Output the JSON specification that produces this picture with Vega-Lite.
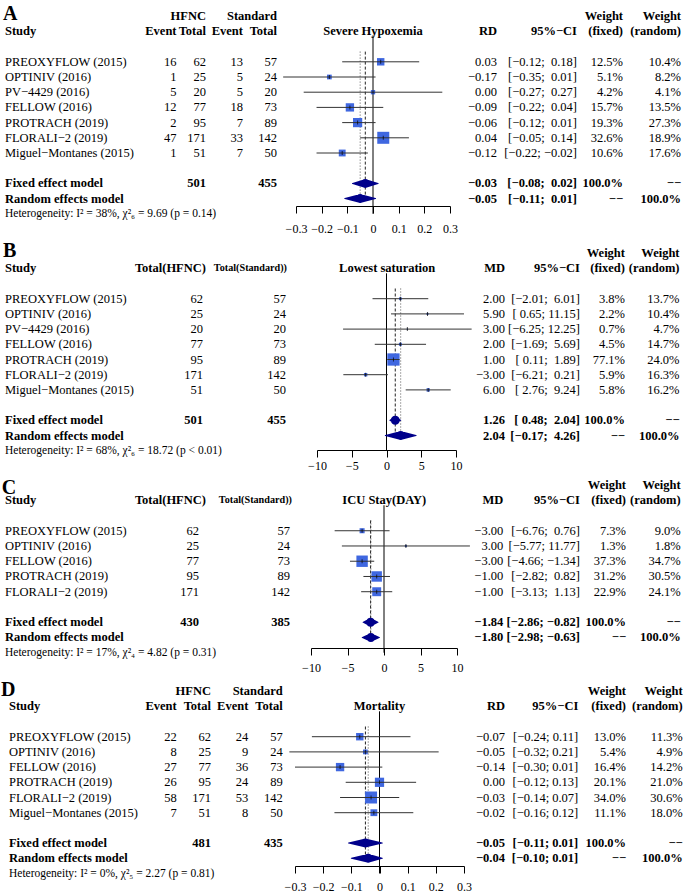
{
"$schema":"https://vega.github.io/schema/vega-lite/v6.json",
"padding":0,
"spacing":0,
"resolve":{"scale":{"size":"independent"}},
"config":{
 "view":{"stroke":null},
 "font":"Liberation Serif",
 "text":{"font":"Liberation Serif","fontSize":12.5,"align":"right","color":"black"},
 "axis":{"grid":false,"domainColor":"black","tickColor":"black","labelColor":"black","labelFont":"Liberation Serif","labelFontSize":12,"tickSize":7},
 "legend":{"disable":true}
},
"datasets":{
 "A":[
  {"row":"PREOXYFLOW (2015)","e1":16,"n1":62,"e2":13,"n2":57,"est":0.03,"lo":-0.12,"hi":0.18,"ci":"[−0.12;\u00a0 0.18]","wf":0.125,"wr":0.104},
  {"row":"OPTINIV (2016)","e1":1,"n1":25,"e2":5,"n2":24,"est":-0.17,"lo":-0.35,"hi":0.01,"ci":"[−0.35;\u00a0 0.01]","wf":0.051,"wr":0.082},
  {"row":"PV−4429 (2016)","e1":5,"n1":20,"e2":5,"n2":20,"est":0.0,"lo":-0.27,"hi":0.27,"ci":"[−0.27;\u00a0 0.27]","wf":0.042,"wr":0.041},
  {"row":"FELLOW (2016)","e1":12,"n1":77,"e2":18,"n2":73,"est":-0.09,"lo":-0.22,"hi":0.04,"ci":"[−0.22;\u00a0 0.04]","wf":0.157,"wr":0.135},
  {"row":"PROTRACH (2019)","e1":2,"n1":95,"e2":7,"n2":89,"est":-0.06,"lo":-0.12,"hi":0.01,"ci":"[−0.12;\u00a0 0.01]","wf":0.193,"wr":0.273},
  {"row":"FLORALI−2 (2019)","e1":47,"n1":171,"e2":33,"n2":142,"est":0.04,"lo":-0.05,"hi":0.14,"ci":"[−0.05;\u00a0 0.14]","wf":0.326,"wr":0.189},
  {"row":"Miguel−Montanes (2015)","e1":1,"n1":51,"e2":7,"n2":50,"est":-0.12,"lo":-0.22,"hi":-0.02,"ci":"[−0.22; −0.02]","wf":0.106,"wr":0.176}
 ],
 "As":[
  {"row":"Fixed effect model","n1":501,"n2":455,"est":-0.03,"lo":-0.08,"hi":0.02,"ci":"[−0.08;\u00a0 0.02]","wf":"100.0%","wr":"−−"},
  {"row":"Random effects model","est":-0.05,"lo":-0.11,"hi":0.01,"ci":"[−0.11;\u00a0 0.01]","wf":"−−","wr":"100.0%"}
 ],
 "hA":[
  {"row":"h1","c":"L","t":"A"},
  {"row":"h1","c":"n1","t":"HFNC"},
  {"row":"h1","c":"n2","t":"Standard"},
  {"row":"h1","c":"wf","t":"Weight"},
  {"row":"h1","c":"wr","t":"Weight"},
  {"row":"h2","c":"study","t":"Study"},
  {"row":"h2","c":"e1","t":"Event"},
  {"row":"h2","c":"n1","t":"Total"},
  {"row":"h2","c":"e2","t":"Event"},
  {"row":"h2","c":"n2","t":"Total"},
  {"row":"h2","c":"plot","t":"Severe Hypoxemia"},
  {"row":"h2","c":"est","t":"RD"},
  {"row":"h2","c":"ci","t":"95%−CI"},
  {"row":"h2","c":"wf","t":"(fixed)"},
  {"row":"h2","c":"wr","t":"(random)"},
  {"row":"het","c":"het","t":"Heterogeneity: I² = 38%, χ²₆ = 9.69 (p = 0.14)"}
 ],
 "B":[
  {"row":"PREOXYFLOW (2015)","n1":62,"n2":57,"est":2.0,"lo":-2.01,"hi":6.01,"ci":"[−2.01;\u00a0 6.01]","wf":0.038,"wr":0.137},
  {"row":"OPTINIV (2016)","n1":25,"n2":24,"est":5.9,"lo":0.65,"hi":11.15,"ci":"[ 0.65; 11.15]","wf":0.022,"wr":0.104},
  {"row":"PV−4429 (2016)","n1":20,"n2":20,"est":3.0,"lo":-6.25,"hi":12.25,"ci":"[−6.25; 12.25]","wf":0.007,"wr":0.047},
  {"row":"FELLOW (2016)","n1":77,"n2":73,"est":2.0,"lo":-1.69,"hi":5.69,"ci":"[−1.69;\u00a0 5.69]","wf":0.045,"wr":0.147},
  {"row":"PROTRACH (2019)","n1":95,"n2":89,"est":1.0,"lo":0.11,"hi":1.89,"ci":"[ 0.11;\u00a0 1.89]","wf":0.771,"wr":0.24},
  {"row":"FLORALI−2 (2019)","n1":171,"n2":142,"est":-3.0,"lo":-6.21,"hi":0.21,"ci":"[−6.21;\u00a0 0.21]","wf":0.059,"wr":0.163},
  {"row":"Miguel−Montanes (2015)","n1":51,"n2":50,"est":6.0,"lo":2.76,"hi":9.24,"ci":"[ 2.76;\u00a0 9.24]","wf":0.058,"wr":0.162}
 ],
 "Bs":[
  {"row":"Fixed effect model","n1":501,"n2":455,"est":1.26,"lo":0.48,"hi":2.04,"ci":"[ 0.48;\u00a0 2.04]","wf":"100.0%","wr":"−−"},
  {"row":"Random effects model","est":2.04,"lo":-0.17,"hi":4.26,"ci":"[−0.17;\u00a0 4.26]","wf":"−−","wr":"100.0%"}
 ],
 "hB":[
  {"row":"h1","c":"L","t":"B"},
  {"row":"h1","c":"wf","t":"Weight"},
  {"row":"h1","c":"wr","t":"Weight"},
  {"row":"h2","c":"study","t":"Study"},
  {"row":"h2","c":"n1","t":"Total(HFNC)"},
  {"row":"h2","c":"n2","t":"Total(Standard))"},
  {"row":"h2","c":"plot","t":"Lowest saturation"},
  {"row":"h2","c":"est","t":"MD"},
  {"row":"h2","c":"ci","t":"95%−CI"},
  {"row":"h2","c":"wf","t":"(fixed)"},
  {"row":"h2","c":"wr","t":"(random)"},
  {"row":"het","c":"het","t":"Heterogeneity: I² = 68%, χ²₆ = 18.72 (p < 0.01)"}
 ],
 "C":[
  {"row":"PREOXYFLOW (2015)","n1":62,"n2":57,"est":-3.0,"lo":-6.76,"hi":0.76,"ci":"[−6.76;\u00a0 0.76]","wf":0.073,"wr":0.09},
  {"row":"OPTINIV (2016)","n1":25,"n2":24,"est":3.0,"lo":-5.77,"hi":11.77,"ci":"[−5.77; 11.77]","wf":0.013,"wr":0.018},
  {"row":"FELLOW (2016)","n1":77,"n2":73,"est":-3.0,"lo":-4.66,"hi":-1.34,"ci":"[−4.66; −1.34]","wf":0.373,"wr":0.347},
  {"row":"PROTRACH (2019)","n1":95,"n2":89,"est":-1.0,"lo":-2.82,"hi":0.82,"ci":"[−2.82;\u00a0 0.82]","wf":0.312,"wr":0.305},
  {"row":"FLORALI−2 (2019)","n1":171,"n2":142,"est":-1.0,"lo":-3.13,"hi":1.13,"ci":"[−3.13;\u00a0 1.13]","wf":0.229,"wr":0.241}
 ],
 "Cs":[
  {"row":"Fixed effect model","n1":430,"n2":385,"est":-1.84,"lo":-2.86,"hi":-0.82,"ci":"[−2.86; −0.82]","wf":"100.0%","wr":"−−"},
  {"row":"Random effects model","est":-1.8,"lo":-2.98,"hi":-0.63,"ci":"[−2.98; −0.63]","wf":"−−","wr":"100.0%"}
 ],
 "hC":[
  {"row":"h1","c":"L","t":"C"},
  {"row":"h1","c":"wf","t":"Weight"},
  {"row":"h1","c":"wr","t":"Weight"},
  {"row":"h2","c":"study","t":"Study"},
  {"row":"h2","c":"n1","t":"Total(HFNC)"},
  {"row":"h2","c":"n2","t":"Total(Standard))"},
  {"row":"h2","c":"plot","t":"ICU Stay(DAY)"},
  {"row":"h2","c":"est","t":"MD"},
  {"row":"h2","c":"ci","t":"95%−CI"},
  {"row":"h2","c":"wf","t":"(fixed)"},
  {"row":"h2","c":"wr","t":"(random)"},
  {"row":"het","c":"het","t":"Heterogeneity: I² = 17%, χ²₄ = 4.82 (p = 0.31)"}
 ],
 "D":[
  {"row":"PREOXYFLOW (2015)","e1":22,"n1":62,"e2":24,"n2":57,"est":-0.07,"lo":-0.24,"hi":0.11,"ci":"[−0.24; 0.11]","wf":0.13,"wr":0.113},
  {"row":"OPTINIV (2016)","e1":8,"n1":25,"e2":9,"n2":24,"est":-0.05,"lo":-0.32,"hi":0.21,"ci":"[−0.32; 0.21]","wf":0.054,"wr":0.049},
  {"row":"FELLOW (2016)","e1":27,"n1":77,"e2":36,"n2":73,"est":-0.14,"lo":-0.3,"hi":0.01,"ci":"[−0.30; 0.01]","wf":0.164,"wr":0.142},
  {"row":"PROTRACH (2019)","e1":26,"n1":95,"e2":24,"n2":89,"est":0.0,"lo":-0.12,"hi":0.13,"ci":"[−0.12; 0.13]","wf":0.201,"wr":0.21},
  {"row":"FLORALI−2 (2019)","e1":58,"n1":171,"e2":53,"n2":142,"est":-0.03,"lo":-0.14,"hi":0.07,"ci":"[−0.14; 0.07]","wf":0.34,"wr":0.306},
  {"row":"Miguel−Montanes (2015)","e1":7,"n1":51,"e2":8,"n2":50,"est":-0.02,"lo":-0.16,"hi":0.12,"ci":"[−0.16; 0.12]","wf":0.111,"wr":0.18}
 ],
 "Ds":[
  {"row":"Fixed effect model","n1":481,"n2":435,"est":-0.05,"lo":-0.11,"hi":0.01,"ci":"[−0.11; 0.01]","wf":"100.0%","wr":"−−"},
  {"row":"Random effects model","est":-0.04,"lo":-0.1,"hi":0.01,"ci":"[−0.10; 0.01]","wf":"−−","wr":"100.0%"}
 ],
 "hD":[
  {"row":"h1","c":"L","t":"D"},
  {"row":"h1","c":"n1","t":"HFNC"},
  {"row":"h1","c":"n2","t":"Standard"},
  {"row":"h1","c":"wf","t":"Weight"},
  {"row":"h1","c":"wr","t":"Weight"},
  {"row":"h2","c":"study","t":"Study"},
  {"row":"h2","c":"e1","t":"Event"},
  {"row":"h2","c":"n1","t":"Total"},
  {"row":"h2","c":"e2","t":"Event"},
  {"row":"h2","c":"n2","t":"Total"},
  {"row":"h2","c":"plot","t":"Mortality"},
  {"row":"h2","c":"est","t":"RD"},
  {"row":"h2","c":"ci","t":"95%−CI"},
  {"row":"h2","c":"wf","t":"(fixed)"},
  {"row":"h2","c":"wr","t":"(random)"},
  {"row":"het","c":"het","t":"Heterogeneity: I² = 0%, χ²₅ = 2.27 (p = 0.81)"}
 ]
},
"vconcat":[
 {"spacing":0,"bounds":"flush","resolve":{"scale":{"size":"independent"}},"hconcat":[
  {"width":296,"height":206,
   "encoding":{"y":{"field":"row","type":"nominal","axis":null,"scale":{"type":"point","padding":0,"domain":["h1","h2","b1","PREOXYFLOW (2015)","OPTINIV (2016)","PV−4429 (2016)","FELLOW (2016)","PROTRACH (2019)","FLORALI−2 (2019)","Miguel−Montanes (2015)","b2","Fixed effect model","Random effects model","het"],"range":[16.2,213.8]}}},
   "layer":[
    {"data":{"name":"hA"},"transform":[{"filter":"datum.c=='L'"}],"mark":{"type":"text","align":"left","fontWeight":"bold","fontSize":20,"dy":-2.5},"encoding":{"x":{"datum":0.44,"scale":{"domain":[0,43.212],"nice":false,"zero":false},"axis":null},"text":{"field":"t"}}},
    {"data":{"name":"hA"},"transform":[{"filter":"datum.c=='het'"}],"mark":{"type":"text","align":"left","fontSize":11.5},"encoding":{"x":{"datum":0.73,"axis":null},"text":{"field":"t"}}},
    {"data":{"name":"hA"},"transform":[{"filter":"datum.c=='study'"}],"mark":{"type":"text","align":"left","fontWeight":"bold"},"encoding":{"x":{"datum":0.73,"axis":null},"text":{"field":"t"}}},
    {"data":{"name":"hA"},"transform":[{"filter":"datum.c=='e1'"}],"mark":{"type":"text","fontWeight":"bold"},"encoding":{"x":{"datum":25.77,"axis":null},"text":{"field":"t"}}},
    {"data":{"name":"hA"},"transform":[{"filter":"datum.c=='n1'"}],"mark":{"type":"text","fontWeight":"bold"},"encoding":{"x":{"datum":30.07,"axis":null},"text":{"field":"t"}}},
    {"data":{"name":"hA"},"transform":[{"filter":"datum.c=='e2'"}],"mark":{"type":"text","fontWeight":"bold"},"encoding":{"x":{"datum":35.47,"axis":null},"text":{"field":"t"}}},
    {"data":{"name":"hA"},"transform":[{"filter":"datum.c=='n2'"}],"mark":{"type":"text","fontWeight":"bold"},"encoding":{"x":{"datum":40.44,"axis":null},"text":{"field":"t"}}},
    {"data":{"name":"A"},"mark":{"type":"text","align":"left"},"encoding":{"x":{"datum":0.73,"axis":null},"text":{"field":"row"}}},
    {"data":{"name":"A"},"mark":"text","encoding":{"x":{"datum":25.77,"axis":null},"text":{"field":"e1"}}},
    {"data":{"name":"A"},"mark":"text","encoding":{"x":{"datum":30.07,"axis":null},"text":{"field":"n1"}}},
    {"data":{"name":"A"},"mark":"text","encoding":{"x":{"datum":35.47,"axis":null},"text":{"field":"e2"}}},
    {"data":{"name":"A"},"mark":"text","encoding":{"x":{"datum":40.44,"axis":null},"text":{"field":"n2"}}},
    {"data":{"name":"As"},"mark":{"type":"text","align":"left","fontWeight":"bold"},"encoding":{"x":{"datum":0.73,"axis":null},"text":{"field":"row"}}},
    {"data":{"name":"As"},"transform":[{"filter":"isValid(datum.n1)"}],"mark":{"type":"text","fontWeight":"bold"},"encoding":{"x":{"datum":30.07,"axis":null},"text":{"field":"n1"}}},
    {"data":{"name":"As"},"transform":[{"filter":"isValid(datum.n2)"}],"mark":{"type":"text","fontWeight":"bold"},"encoding":{"x":{"datum":40.44,"axis":null},"text":{"field":"n2"}}}
   ]},
  {"width":154,"height":206,
   "encoding":{"y":{"field":"row","type":"nominal","axis":null,"scale":{"type":"point","padding":0,"domain":["h1","h2","b1","PREOXYFLOW (2015)","OPTINIV (2016)","PV−4429 (2016)","FELLOW (2016)","PROTRACH (2019)","FLORALI−2 (2019)","Miguel−Montanes (2015)","b2","Fixed effect model","Random effects model","het"],"range":[16.2,213.8]}}},
   "resolve":{"scale":{"size":"independent"}},
   "layer":[
    {"data":{"name":"As"},"transform":[{"filter":"datum.row=='Fixed effect model'"}],"mark":{"type":"rule","color":"black","yOffset":4},"encoding":{"x":{"datum":0,"scale":{"domain":[-0.3,0.3],"nice":false},"axis":{"values":[-0.3,-0.2,-0.1,0,0.1,0.2,0.3],"tickCount":20,"format":"~g","title":null,"orient":"bottom","labelPadding":10,"labelOverlap":false,"labelFlush":false,"labelBound":false}},"y":{"datum":"h2"},"y2":{"datum":"het"}}},
    {"data":{"name":"As"},"transform":[{"filter":"datum.row=='Fixed effect model'"}],"mark":{"type":"rule","color":"#222","strokeDash":[3,2],"yOffset":5,"y2Offset":2},"encoding":{"x":{"field":"est","type":"quantitative"},"y":{"datum":"b1"},"y2":{"datum":"Random effects model"}}},
    {"data":{"name":"As"},"transform":[{"filter":"datum.row=='Random effects model'"}],"mark":{"type":"rule","color":"#555","strokeDash":[1,2],"yOffset":5,"y2Offset":2},"encoding":{"x":{"field":"est","type":"quantitative"},"y":{"datum":"b1"},"y2":{"datum":"Random effects model"}}},
    {"data":{"name":"A"},"mark":{"type":"point","shape":"square","filled":true,"color":"#3f67e0","opacity":1},"encoding":{"x":{"field":"est","type":"quantitative"},"size":{"field":"wf","type":"quantitative","scale":{"domain":[0,0.326],"range":[0,144]}}}},
    {"data":{"name":"A"},"mark":{"type":"rule","color":"#333"},"encoding":{"x":{"field":"lo","type":"quantitative"},"x2":{"field":"hi"}}},
    {"data":{"name":"A"},"mark":{"type":"tick","color":"black","size":4,"thickness":1},"encoding":{"x":{"field":"est","type":"quantitative"}}},
    {"data":{"name":"As"},"transform":[{"fold":["lo","est","hi"],"as":["k","v"]},{"window":[{"op":"row_number","as":"i"}],"sort":[{"field":"v"}],"groupby":["row"]}],"mark":{"type":"trail","color":"#00008b"},"encoding":{"x":{"field":"v","type":"quantitative"},"size":{"field":"i","type":"quantitative","scale":{"domain":[1,2,3],"range":[0,9,0]}},"detail":{"field":"row","type":"nominal"},"order":{"field":"i","type":"quantitative"}}},
    {"data":{"name":"hA"},"transform":[{"filter":"datum.c=='plot'"}],"mark":{"type":"text","align":"center","fontWeight":"bold"},"encoding":{"x":{"datum":0},"text":{"field":"t"}}}
   ]},
  {"width":235,"height":206,
   "encoding":{"y":{"field":"row","type":"nominal","axis":null,"scale":{"type":"point","padding":0,"domain":["h1","h2","b1","PREOXYFLOW (2015)","OPTINIV (2016)","PV−4429 (2016)","FELLOW (2016)","PROTRACH (2019)","FLORALI−2 (2019)","Miguel−Montanes (2015)","b2","Fixed effect model","Random effects model","het"],"range":[16.2,213.8]}}},
   "layer":[
    {"data":{"name":"hA"},"transform":[{"filter":"datum.c=='est'"}],"mark":{"type":"text","fontWeight":"bold"},"encoding":{"x":{"datum":72.55,"scale":{"domain":[65.693,100],"nice":false,"zero":false},"axis":null},"text":{"field":"t"}}},
    {"data":{"name":"hA"},"transform":[{"filter":"datum.c=='ci'"}],"mark":{"type":"text","fontWeight":"bold"},"encoding":{"x":{"datum":84.23,"axis":null},"text":{"field":"t"}}},
    {"data":{"name":"hA"},"transform":[{"filter":"datum.c=='wf'"}],"mark":{"type":"text","fontWeight":"bold"},"encoding":{"x":{"datum":90.95,"axis":null},"text":{"field":"t"}}},
    {"data":{"name":"hA"},"transform":[{"filter":"datum.c=='wr'"}],"mark":{"type":"text","fontWeight":"bold"},"encoding":{"x":{"datum":99.42,"axis":null},"text":{"field":"t"}}},
    {"data":{"name":"A"},"mark":"text","encoding":{"x":{"datum":72.55,"axis":null},"text":{"field":"est","type":"quantitative","format":".2f"}}},
    {"data":{"name":"A"},"mark":"text","encoding":{"x":{"datum":84.23,"axis":null},"text":{"field":"ci"}}},
    {"data":{"name":"A"},"mark":"text","encoding":{"x":{"datum":90.95,"axis":null},"text":{"field":"wf","type":"quantitative","format":".1%"}}},
    {"data":{"name":"A"},"mark":"text","encoding":{"x":{"datum":99.42,"axis":null},"text":{"field":"wr","type":"quantitative","format":".1%"}}},
    {"data":{"name":"As"},"mark":{"type":"text","fontWeight":"bold"},"encoding":{"x":{"datum":72.55,"axis":null},"text":{"field":"est","type":"quantitative","format":".2f"}}},
    {"data":{"name":"As"},"mark":{"type":"text","fontWeight":"bold"},"encoding":{"x":{"datum":84.23,"axis":null},"text":{"field":"ci"}}},
    {"data":{"name":"As"},"mark":{"type":"text","fontWeight":"bold"},"encoding":{"x":{"datum":90.95,"axis":null},"text":{"field":"wf"}}},
    {"data":{"name":"As"},"mark":{"type":"text","fontWeight":"bold"},"encoding":{"x":{"datum":99.42,"axis":null},"text":{"field":"wr"}}}
   ]}
 ]},
 {"spacing":0,"bounds":"flush","resolve":{"scale":{"size":"independent"}},"hconcat":[
  {"width":317,"height":216,
   "encoding":{"y":{"field":"row","type":"nominal","axis":null,"scale":{"type":"point","padding":0,"domain":["h1","h2","b1","PREOXYFLOW (2015)","OPTINIV (2016)","PV−4429 (2016)","FELLOW (2016)","PROTRACH (2019)","FLORALI−2 (2019)","Miguel−Montanes (2015)","b2","Fixed effect model","Random effects model","het"],"range":[19.1,216.7]}}},
   "layer":[
    {"data":{"name":"hB"},"transform":[{"filter":"datum.c=='L'"}],"mark":{"type":"text","align":"left","fontWeight":"bold","fontSize":20,"dy":-2},"encoding":{"x":{"datum":0.44,"scale":{"domain":[0,46.277],"nice":false,"zero":false},"axis":null},"text":{"field":"t"}}},
    {"data":{"name":"hB"},"transform":[{"filter":"datum.c=='het'"}],"mark":{"type":"text","align":"left","fontSize":11.5},"encoding":{"x":{"datum":0.73,"axis":null},"text":{"field":"t"}}},
    {"data":{"name":"hB"},"transform":[{"filter":"datum.c=='study'"}],"mark":{"type":"text","align":"left","fontWeight":"bold"},"encoding":{"x":{"datum":0.73,"axis":null},"text":{"field":"t"}}},
    {"data":{"name":"hB"},"transform":[{"filter":"datum.c=='n1'"}],"mark":{"type":"text","fontWeight":"bold"},"encoding":{"x":{"datum":30.07,"axis":null},"text":{"field":"t"}}},
    {"data":{"name":"hB"},"transform":[{"filter":"datum.c=='n2'"}],"mark":{"type":"text","fontWeight":"bold","fontSize":10.2},"encoding":{"x":{"datum":41.9,"axis":null},"text":{"field":"t"}}},
    {"data":{"name":"B"},"mark":{"type":"text","align":"left"},"encoding":{"x":{"datum":0.73,"axis":null},"text":{"field":"row"}}},
    {"data":{"name":"B"},"mark":"text","encoding":{"x":{"datum":29.64,"axis":null},"text":{"field":"n1"}}},
    {"data":{"name":"B"},"mark":"text","encoding":{"x":{"datum":41.75,"axis":null},"text":{"field":"n2"}}},
    {"data":{"name":"Bs"},"mark":{"type":"text","align":"left","fontWeight":"bold"},"encoding":{"x":{"datum":0.73,"axis":null},"text":{"field":"row"}}},
    {"data":{"name":"Bs"},"transform":[{"filter":"isValid(datum.n1)"}],"mark":{"type":"text","fontWeight":"bold"},"encoding":{"x":{"datum":29.64,"axis":null},"text":{"field":"n1"}}},
    {"data":{"name":"Bs"},"transform":[{"filter":"isValid(datum.n2)"}],"mark":{"type":"text","fontWeight":"bold"},"encoding":{"x":{"datum":41.75,"axis":null},"text":{"field":"n2"}}}
   ]},
  {"width":139,"height":216,
   "encoding":{"y":{"field":"row","type":"nominal","axis":null,"scale":{"type":"point","padding":0,"domain":["h1","h2","b1","PREOXYFLOW (2015)","OPTINIV (2016)","PV−4429 (2016)","FELLOW (2016)","PROTRACH (2019)","FLORALI−2 (2019)","Miguel−Montanes (2015)","b2","Fixed effect model","Random effects model","het"],"range":[19.1,216.7]}}},
   "resolve":{"scale":{"size":"independent"}},
   "layer":[
    {"data":{"name":"Bs"},"transform":[{"filter":"datum.row=='Fixed effect model'"}],"mark":{"type":"rule","color":"black","yOffset":5},"encoding":{"x":{"datum":0,"scale":{"domain":[-10,10],"nice":false},"axis":{"values":[-10,-5,0,5,10],"tickCount":20,"format":"d","title":null,"orient":"bottom","labelPadding":3,"labelOverlap":false,"labelFlush":false,"labelBound":false}},"y":{"datum":"h2"},"y2":{"datum":"het"}}},
    {"data":{"name":"Bs"},"transform":[{"filter":"datum.row=='Fixed effect model'"}],"mark":{"type":"rule","color":"#222","strokeDash":[3,2],"yOffset":5,"y2Offset":2},"encoding":{"x":{"field":"est","type":"quantitative"},"y":{"datum":"b1"},"y2":{"datum":"Random effects model"}}},
    {"data":{"name":"Bs"},"transform":[{"filter":"datum.row=='Random effects model'"}],"mark":{"type":"rule","color":"#555","strokeDash":[1,2],"yOffset":5,"y2Offset":2},"encoding":{"x":{"field":"est","type":"quantitative"},"y":{"datum":"b1"},"y2":{"datum":"Random effects model"}}},
    {"data":{"name":"B"},"mark":{"type":"point","shape":"square","filled":true,"color":"#3f67e0","opacity":1},"encoding":{"x":{"field":"est","type":"quantitative"},"size":{"field":"wf","type":"quantitative","scale":{"domain":[0,0.771],"range":[0,151]}}}},
    {"data":{"name":"B"},"mark":{"type":"rule","color":"#333"},"encoding":{"x":{"field":"lo","type":"quantitative"},"x2":{"field":"hi"}}},
    {"data":{"name":"B"},"mark":{"type":"tick","color":"black","size":4,"thickness":1},"encoding":{"x":{"field":"est","type":"quantitative"}}},
    {"data":{"name":"Bs"},"transform":[{"fold":["lo","est","hi"],"as":["k","v"]},{"window":[{"op":"row_number","as":"i"}],"sort":[{"field":"v"}],"groupby":["row"]}],"mark":{"type":"trail","color":"#00008b"},"encoding":{"x":{"field":"v","type":"quantitative"},"size":{"field":"i","type":"quantitative","scale":{"domain":[1,2,3],"range":[0,9,0]}},"detail":{"field":"row","type":"nominal"},"order":{"field":"i","type":"quantitative"}}},
    {"data":{"name":"hB"},"transform":[{"filter":"datum.c=='plot'"}],"mark":{"type":"text","align":"center","fontWeight":"bold"},"encoding":{"x":{"datum":0.1},"text":{"field":"t"}}}
   ]},
  {"width":229,"height":216,
   "encoding":{"y":{"field":"row","type":"nominal","axis":null,"scale":{"type":"point","padding":0,"domain":["h1","h2","b1","PREOXYFLOW (2015)","OPTINIV (2016)","PV−4429 (2016)","FELLOW (2016)","PROTRACH (2019)","FLORALI−2 (2019)","Miguel−Montanes (2015)","b2","Fixed effect model","Random effects model","het"],"range":[19.1,216.7]}}},
   "layer":[
    {"data":{"name":"hB"},"transform":[{"filter":"datum.c=='est'"}],"mark":{"type":"text","fontWeight":"bold"},"encoding":{"x":{"datum":73.72,"scale":{"domain":[66.569,100],"nice":false,"zero":false},"axis":null},"text":{"field":"t"}}},
    {"data":{"name":"hB"},"transform":[{"filter":"datum.c=='ci'"}],"mark":{"type":"text","fontWeight":"bold"},"encoding":{"x":{"datum":84.67,"axis":null},"text":{"field":"t"}}},
    {"data":{"name":"hB"},"transform":[{"filter":"datum.c=='wf'"}],"mark":{"type":"text","fontWeight":"bold"},"encoding":{"x":{"datum":91.24,"axis":null},"text":{"field":"t"}}},
    {"data":{"name":"hB"},"transform":[{"filter":"datum.c=='wr'"}],"mark":{"type":"text","fontWeight":"bold"},"encoding":{"x":{"datum":99.2,"axis":null},"text":{"field":"t"}}},
    {"data":{"name":"B"},"mark":"text","encoding":{"x":{"datum":73.72,"axis":null},"text":{"field":"est","type":"quantitative","format":".2f"}}},
    {"data":{"name":"B"},"mark":"text","encoding":{"x":{"datum":84.67,"axis":null},"text":{"field":"ci"}}},
    {"data":{"name":"B"},"mark":"text","encoding":{"x":{"datum":91.24,"axis":null},"text":{"field":"wf","type":"quantitative","format":".1%"}}},
    {"data":{"name":"B"},"mark":"text","encoding":{"x":{"datum":99.2,"axis":null},"text":{"field":"wr","type":"quantitative","format":".1%"}}},
    {"data":{"name":"Bs"},"mark":{"type":"text","fontWeight":"bold"},"encoding":{"x":{"datum":73.72,"axis":null},"text":{"field":"est","type":"quantitative","format":".2f"}}},
    {"data":{"name":"Bs"},"mark":{"type":"text","fontWeight":"bold"},"encoding":{"x":{"datum":84.67,"axis":null},"text":{"field":"ci"}}},
    {"data":{"name":"Bs"},"mark":{"type":"text","fontWeight":"bold"},"encoding":{"x":{"datum":91.24,"axis":null},"text":{"field":"wf"}}},
    {"data":{"name":"Bs"},"mark":{"type":"text","fontWeight":"bold"},"encoding":{"x":{"datum":99.2,"axis":null},"text":{"field":"wr"}}}
   ]}
 ]},
 {"spacing":0,"bounds":"flush","resolve":{"scale":{"size":"independent"}},"hconcat":[
  {"width":311,"height":177,
   "encoding":{"y":{"field":"row","type":"nominal","axis":null,"scale":{"type":"point","padding":0,"domain":["h1","h2","b1","PREOXYFLOW (2015)","OPTINIV (2016)","FELLOW (2016)","PROTRACH (2019)","FLORALI−2 (2019)","b2","Fixed effect model","Random effects model","het"],"range":[14,181.7]}}},
   "layer":[
    {"data":{"name":"hC"},"transform":[{"filter":"datum.c=='L'"}],"mark":{"type":"text","align":"left","fontWeight":"bold","fontSize":20,"dy":3},"encoding":{"x":{"datum":0.25,"scale":{"domain":[0,45.401],"nice":false,"zero":false},"axis":null},"text":{"field":"t"}}},
    {"data":{"name":"hC"},"transform":[{"filter":"datum.c=='het'"}],"mark":{"type":"text","align":"left","fontSize":11.5},"encoding":{"x":{"datum":0.73,"axis":null},"text":{"field":"t"}}},
    {"data":{"name":"hC"},"transform":[{"filter":"datum.c=='study'"}],"mark":{"type":"text","align":"left","fontWeight":"bold"},"encoding":{"x":{"datum":0.73,"axis":null},"text":{"field":"t"}}},
    {"data":{"name":"hC"},"transform":[{"filter":"datum.c=='n1'"}],"mark":{"type":"text","fontWeight":"bold"},"encoding":{"x":{"datum":30.07,"axis":null},"text":{"field":"t"}}},
    {"data":{"name":"hC"},"transform":[{"filter":"datum.c=='n2'"}],"mark":{"type":"text","fontWeight":"bold","fontSize":10.2},"encoding":{"x":{"datum":42.63,"axis":null},"text":{"field":"t"}}},
    {"data":{"name":"C"},"mark":{"type":"text","align":"left"},"encoding":{"x":{"datum":0.73,"axis":null},"text":{"field":"row"}}},
    {"data":{"name":"C"},"mark":"text","encoding":{"x":{"datum":29.05,"axis":null},"text":{"field":"n1"}}},
    {"data":{"name":"C"},"mark":"text","encoding":{"x":{"datum":42.34,"axis":null},"text":{"field":"n2"}}},
    {"data":{"name":"Cs"},"mark":{"type":"text","align":"left","fontWeight":"bold"},"encoding":{"x":{"datum":0.73,"axis":null},"text":{"field":"row"}}},
    {"data":{"name":"Cs"},"transform":[{"filter":"isValid(datum.n1)"}],"mark":{"type":"text","fontWeight":"bold"},"encoding":{"x":{"datum":29.05,"axis":null},"text":{"field":"n1"}}},
    {"data":{"name":"Cs"},"transform":[{"filter":"isValid(datum.n2)"}],"mark":{"type":"text","fontWeight":"bold"},"encoding":{"x":{"datum":42.34,"axis":null},"text":{"field":"n2"}}}
   ]},
  {"width":146,"height":177,
   "encoding":{"y":{"field":"row","type":"nominal","axis":null,"scale":{"type":"point","padding":0,"domain":["h1","h2","b1","PREOXYFLOW (2015)","OPTINIV (2016)","FELLOW (2016)","PROTRACH (2019)","FLORALI−2 (2019)","b2","Fixed effect model","Random effects model","het"],"range":[14,181.7]}}},
   "resolve":{"scale":{"size":"independent"}},
   "layer":[
    {"data":{"name":"Cs"},"transform":[{"filter":"datum.row=='Fixed effect model'"}],"mark":{"type":"rule","color":"black","yOffset":5},"encoding":{"x":{"datum":0,"scale":{"domain":[-10,10],"nice":false},"axis":{"values":[-10,-5,0,5,10],"tickCount":20,"format":"d","title":null,"orient":"bottom","labelPadding":7,"labelOverlap":false,"labelFlush":false,"labelBound":false}},"y":{"datum":"h2"},"y2":{"datum":"het"}}},
    {"data":{"name":"Cs"},"transform":[{"filter":"datum.row=='Fixed effect model'"}],"mark":{"type":"rule","color":"#222","strokeDash":[3,2],"yOffset":5,"y2Offset":2},"encoding":{"x":{"field":"est","type":"quantitative"},"y":{"datum":"b1"},"y2":{"datum":"Random effects model"}}},
    {"data":{"name":"Cs"},"transform":[{"filter":"datum.row=='Random effects model'"}],"mark":{"type":"rule","color":"#555","strokeDash":[1,2],"yOffset":5,"y2Offset":2},"encoding":{"x":{"field":"est","type":"quantitative"},"y":{"datum":"b1"},"y2":{"datum":"Random effects model"}}},
    {"data":{"name":"C"},"mark":{"type":"point","shape":"square","filled":true,"color":"#3f67e0","opacity":1},"encoding":{"x":{"field":"est","type":"quantitative"},"size":{"field":"wf","type":"quantitative","scale":{"domain":[0,0.373],"range":[0,130]}}}},
    {"data":{"name":"C"},"mark":{"type":"rule","color":"#333"},"encoding":{"x":{"field":"lo","type":"quantitative"},"x2":{"field":"hi"}}},
    {"data":{"name":"C"},"mark":{"type":"tick","color":"black","size":4,"thickness":1},"encoding":{"x":{"field":"est","type":"quantitative"}}},
    {"data":{"name":"Cs"},"transform":[{"fold":["lo","est","hi"],"as":["k","v"]},{"window":[{"op":"row_number","as":"i"}],"sort":[{"field":"v"}],"groupby":["row"]}],"mark":{"type":"trail","color":"#00008b"},"encoding":{"x":{"field":"v","type":"quantitative"},"size":{"field":"i","type":"quantitative","scale":{"domain":[1,2,3],"range":[0,9,0]}},"detail":{"field":"row","type":"nominal"},"order":{"field":"i","type":"quantitative"}}},
    {"data":{"name":"hC"},"transform":[{"filter":"datum.c=='plot'"}],"mark":{"type":"text","align":"center","fontWeight":"bold"},"encoding":{"x":{"datum":0.04},"text":{"field":"t"}}}
   ]},
  {"width":228,"height":177,
   "encoding":{"y":{"field":"row","type":"nominal","axis":null,"scale":{"type":"point","padding":0,"domain":["h1","h2","b1","PREOXYFLOW (2015)","OPTINIV (2016)","FELLOW (2016)","PROTRACH (2019)","FLORALI−2 (2019)","b2","Fixed effect model","Random effects model","het"],"range":[14,181.7]}}},
   "layer":[
    {"data":{"name":"hC"},"transform":[{"filter":"datum.c=='est'"}],"mark":{"type":"text","fontWeight":"bold"},"encoding":{"x":{"datum":73.47,"scale":{"domain":[66.715,100],"nice":false,"zero":false},"axis":null},"text":{"field":"t"}}},
    {"data":{"name":"hC"},"transform":[{"filter":"datum.c=='ci'"}],"mark":{"type":"text","fontWeight":"bold"},"encoding":{"x":{"datum":84.67,"axis":null},"text":{"field":"t"}}},
    {"data":{"name":"hC"},"transform":[{"filter":"datum.c=='wf'"}],"mark":{"type":"text","fontWeight":"bold"},"encoding":{"x":{"datum":91.39,"axis":null},"text":{"field":"t"}}},
    {"data":{"name":"hC"},"transform":[{"filter":"datum.c=='wr'"}],"mark":{"type":"text","fontWeight":"bold"},"encoding":{"x":{"datum":99.37,"axis":null},"text":{"field":"t"}}},
    {"data":{"name":"C"},"mark":"text","encoding":{"x":{"datum":73.47,"axis":null},"text":{"field":"est","type":"quantitative","format":".2f"}}},
    {"data":{"name":"C"},"mark":"text","encoding":{"x":{"datum":84.67,"axis":null},"text":{"field":"ci"}}},
    {"data":{"name":"C"},"mark":"text","encoding":{"x":{"datum":91.39,"axis":null},"text":{"field":"wf","type":"quantitative","format":".1%"}}},
    {"data":{"name":"C"},"mark":"text","encoding":{"x":{"datum":99.37,"axis":null},"text":{"field":"wr","type":"quantitative","format":".1%"}}},
    {"data":{"name":"Cs"},"mark":{"type":"text","fontWeight":"bold"},"encoding":{"x":{"datum":73.47,"axis":null},"text":{"field":"est","type":"quantitative","format":".2f"}}},
    {"data":{"name":"Cs"},"mark":{"type":"text","fontWeight":"bold"},"encoding":{"x":{"datum":84.67,"axis":null},"text":{"field":"ci"}}},
    {"data":{"name":"Cs"},"mark":{"type":"text","fontWeight":"bold"},"encoding":{"x":{"datum":91.39,"axis":null},"text":{"field":"wf"}}},
    {"data":{"name":"Cs"},"mark":{"type":"text","fontWeight":"bold"},"encoding":{"x":{"datum":99.37,"axis":null},"text":{"field":"wr"}}}
   ]}
 ]},
 {"spacing":0,"bounds":"flush","resolve":{"scale":{"size":"independent"}},"hconcat":[
  {"width":295,"height":193,
   "encoding":{"y":{"field":"row","type":"nominal","axis":null,"scale":{"type":"point","padding":0,"domain":["h1","h2","b1","PREOXYFLOW (2015)","OPTINIV (2016)","FELLOW (2016)","PROTRACH (2019)","FLORALI−2 (2019)","Miguel−Montanes (2015)","b2","Fixed effect model","Random effects model","het"],"range":[18.1,200.5]}}},
   "layer":[
    {"data":{"name":"hD"},"transform":[{"filter":"datum.c=='L'"}],"mark":{"type":"text","align":"left","fontWeight":"bold","fontSize":20,"dy":-1},"encoding":{"x":{"datum":0.15,"scale":{"domain":[0,43.066],"nice":false,"zero":false},"axis":null},"text":{"field":"t"}}},
    {"data":{"name":"hD"},"transform":[{"filter":"datum.c=='het'"}],"mark":{"type":"text","align":"left","fontSize":11.5},"encoding":{"x":{"datum":1.31,"axis":null},"text":{"field":"t"}}},
    {"data":{"name":"hD"},"transform":[{"filter":"datum.c=='study'"}],"mark":{"type":"text","align":"left","fontWeight":"bold"},"encoding":{"x":{"datum":1.31,"axis":null},"text":{"field":"t"}}},
    {"data":{"name":"hD"},"transform":[{"filter":"datum.c=='e1'"}],"mark":{"type":"text","fontWeight":"bold"},"encoding":{"x":{"datum":25.8,"axis":null},"text":{"field":"t"}}},
    {"data":{"name":"hD"},"transform":[{"filter":"datum.c=='n1'"}],"mark":{"type":"text","fontWeight":"bold"},"encoding":{"x":{"datum":30.8,"axis":null},"text":{"field":"t"}}},
    {"data":{"name":"hD"},"transform":[{"filter":"datum.c=='e2'"}],"mark":{"type":"text","fontWeight":"bold"},"encoding":{"x":{"datum":36.25,"axis":null},"text":{"field":"t"}}},
    {"data":{"name":"hD"},"transform":[{"filter":"datum.c=='n2'"}],"mark":{"type":"text","fontWeight":"bold"},"encoding":{"x":{"datum":41.27,"axis":null},"text":{"field":"t"}}},
    {"data":{"name":"D"},"mark":{"type":"text","align":"left"},"encoding":{"x":{"datum":1.31,"axis":null},"text":{"field":"row"}}},
    {"data":{"name":"D"},"mark":"text","encoding":{"x":{"datum":25.8,"axis":null},"text":{"field":"e1"}}},
    {"data":{"name":"D"},"mark":"text","encoding":{"x":{"datum":30.8,"axis":null},"text":{"field":"n1"}}},
    {"data":{"name":"D"},"mark":"text","encoding":{"x":{"datum":36.25,"axis":null},"text":{"field":"e2"}}},
    {"data":{"name":"D"},"mark":"text","encoding":{"x":{"datum":41.27,"axis":null},"text":{"field":"n2"}}},
    {"data":{"name":"Ds"},"mark":{"type":"text","align":"left","fontWeight":"bold"},"encoding":{"x":{"datum":1.31,"axis":null},"text":{"field":"row"}}},
    {"data":{"name":"Ds"},"transform":[{"filter":"isValid(datum.n1)"}],"mark":{"type":"text","fontWeight":"bold"},"encoding":{"x":{"datum":30.8,"axis":null},"text":{"field":"n1"}}},
    {"data":{"name":"Ds"},"transform":[{"filter":"isValid(datum.n2)"}],"mark":{"type":"text","fontWeight":"bold"},"encoding":{"x":{"datum":41.27,"axis":null},"text":{"field":"n2"}}}
   ]},
  {"width":169,"height":193,
   "encoding":{"y":{"field":"row","type":"nominal","axis":null,"scale":{"type":"point","padding":0,"domain":["h1","h2","b1","PREOXYFLOW (2015)","OPTINIV (2016)","FELLOW (2016)","PROTRACH (2019)","FLORALI−2 (2019)","Miguel−Montanes (2015)","b2","Fixed effect model","Random effects model","het"],"range":[18.1,200.5]}}},
   "resolve":{"scale":{"size":"independent"}},
   "layer":[
    {"data":{"name":"Ds"},"transform":[{"filter":"datum.row=='Fixed effect model'"}],"mark":{"type":"rule","color":"black","yOffset":5},"encoding":{"x":{"datum":0,"scale":{"domain":[-0.3,0.3],"nice":false},"axis":{"values":[-0.3,-0.2,-0.1,0,0.1,0.2,0.3],"tickCount":20,"format":"~g","title":null,"orient":"bottom","labelPadding":8,"labelOverlap":false,"labelFlush":false,"labelBound":false}},"y":{"datum":"h2"},"y2":{"datum":"het"}}},
    {"data":{"name":"Ds"},"transform":[{"filter":"datum.row=='Fixed effect model'"}],"mark":{"type":"rule","color":"#222","strokeDash":[3,2],"yOffset":5,"y2Offset":2},"encoding":{"x":{"field":"est","type":"quantitative"},"y":{"datum":"b1"},"y2":{"datum":"Random effects model"}}},
    {"data":{"name":"Ds"},"transform":[{"filter":"datum.row=='Random effects model'"}],"mark":{"type":"rule","color":"#555","strokeDash":[1,2],"yOffset":5,"y2Offset":2},"encoding":{"x":{"field":"est","type":"quantitative"},"y":{"datum":"b1"},"y2":{"datum":"Random effects model"}}},
    {"data":{"name":"D"},"mark":{"type":"point","shape":"square","filled":true,"color":"#3f67e0","opacity":1},"encoding":{"x":{"field":"est","type":"quantitative"},"size":{"field":"wf","type":"quantitative","scale":{"domain":[0,0.34],"range":[0,144]}}}},
    {"data":{"name":"D"},"mark":{"type":"rule","color":"#333"},"encoding":{"x":{"field":"lo","type":"quantitative"},"x2":{"field":"hi"}}},
    {"data":{"name":"D"},"mark":{"type":"tick","color":"black","size":4,"thickness":1},"encoding":{"x":{"field":"est","type":"quantitative"}}},
    {"data":{"name":"Ds"},"transform":[{"fold":["lo","est","hi"],"as":["k","v"]},{"window":[{"op":"row_number","as":"i"}],"sort":[{"field":"v"}],"groupby":["row"]}],"mark":{"type":"trail","color":"#00008b"},"encoding":{"x":{"field":"v","type":"quantitative"},"size":{"field":"i","type":"quantitative","scale":{"domain":[1,2,3],"range":[0,9,0]}},"detail":{"field":"row","type":"nominal"},"order":{"field":"i","type":"quantitative"}}},
    {"data":{"name":"hD"},"transform":[{"filter":"datum.c=='plot'"}],"mark":{"type":"text","align":"center","fontWeight":"bold"},"encoding":{"x":{"datum":0},"text":{"field":"t"}}}
   ]},
  {"width":221,"height":193,
   "encoding":{"y":{"field":"row","type":"nominal","axis":null,"scale":{"type":"point","padding":0,"domain":["h1","h2","b1","PREOXYFLOW (2015)","OPTINIV (2016)","FELLOW (2016)","PROTRACH (2019)","FLORALI−2 (2019)","Miguel−Montanes (2015)","b2","Fixed effect model","Random effects model","het"],"range":[18.1,200.5]}}},
   "layer":[
    {"data":{"name":"hD"},"transform":[{"filter":"datum.c=='est'"}],"mark":{"type":"text","fontWeight":"bold"},"encoding":{"x":{"datum":73.72,"scale":{"domain":[67.737,100],"nice":false,"zero":false},"axis":null},"text":{"field":"t"}}},
    {"data":{"name":"hD"},"transform":[{"filter":"datum.c=='ci'"}],"mark":{"type":"text","fontWeight":"bold"},"encoding":{"x":{"datum":84.42,"axis":null},"text":{"field":"t"}}},
    {"data":{"name":"hD"},"transform":[{"filter":"datum.c=='wf'"}],"mark":{"type":"text","fontWeight":"bold"},"encoding":{"x":{"datum":91.39,"axis":null},"text":{"field":"t"}}},
    {"data":{"name":"hD"},"transform":[{"filter":"datum.c=='wr'"}],"mark":{"type":"text","fontWeight":"bold"},"encoding":{"x":{"datum":99.66,"axis":null},"text":{"field":"t"}}},
    {"data":{"name":"D"},"mark":"text","encoding":{"x":{"datum":73.72,"axis":null},"text":{"field":"est","type":"quantitative","format":".2f"}}},
    {"data":{"name":"D"},"mark":"text","encoding":{"x":{"datum":84.42,"axis":null},"text":{"field":"ci"}}},
    {"data":{"name":"D"},"mark":"text","encoding":{"x":{"datum":91.39,"axis":null},"text":{"field":"wf","type":"quantitative","format":".1%"}}},
    {"data":{"name":"D"},"mark":"text","encoding":{"x":{"datum":99.66,"axis":null},"text":{"field":"wr","type":"quantitative","format":".1%"}}},
    {"data":{"name":"Ds"},"mark":{"type":"text","fontWeight":"bold"},"encoding":{"x":{"datum":73.72,"axis":null},"text":{"field":"est","type":"quantitative","format":".2f"}}},
    {"data":{"name":"Ds"},"mark":{"type":"text","fontWeight":"bold"},"encoding":{"x":{"datum":84.42,"axis":null},"text":{"field":"ci"}}},
    {"data":{"name":"Ds"},"mark":{"type":"text","fontWeight":"bold"},"encoding":{"x":{"datum":91.39,"axis":null},"text":{"field":"wf"}}},
    {"data":{"name":"Ds"},"mark":{"type":"text","fontWeight":"bold"},"encoding":{"x":{"datum":99.66,"axis":null},"text":{"field":"wr"}}}
   ]}
 ]}
]
}
